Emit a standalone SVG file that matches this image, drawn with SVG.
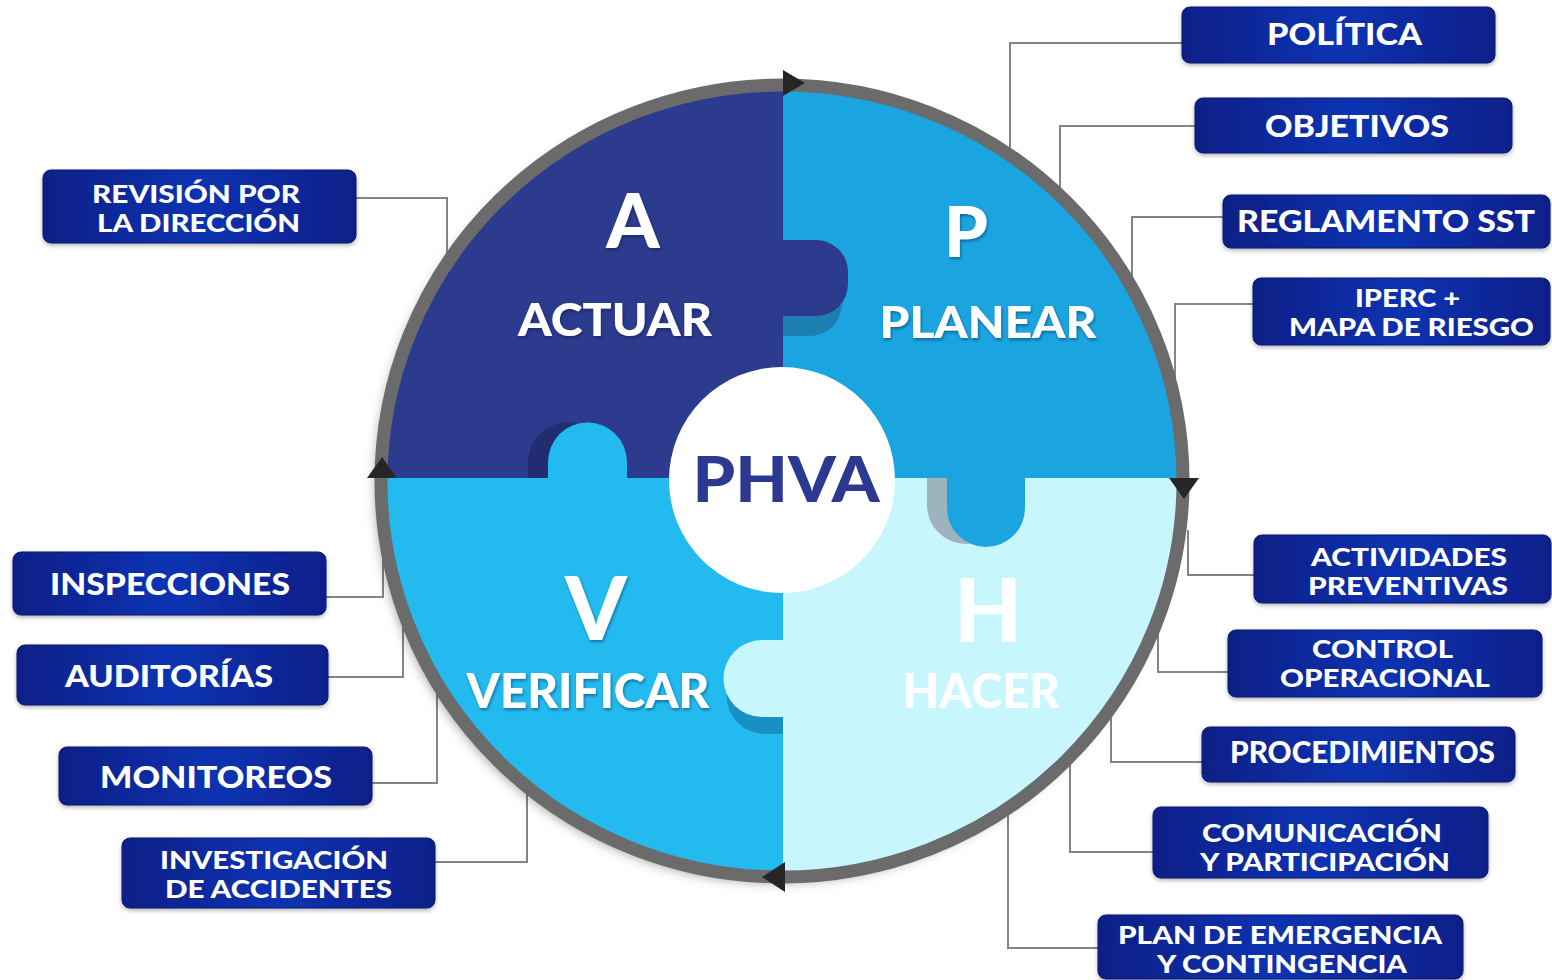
<svg xmlns="http://www.w3.org/2000/svg" width="1552" height="980" viewBox="0 0 1552 980">
  <defs>
    <style>
      .box { fill: url(#boxFill); stroke: #071a6e; stroke-width: 1; filter: url(#boxShadow); }
      .lbl { font-family: Lato, "Open Sans", "Liberation Sans", sans-serif; font-weight: 900; fill: #ffffff; text-anchor: middle; }
      .l1 { font-size: 30px; }
      .l2 { font-size: 24px; }
      .wire { fill: none; stroke: #858585; stroke-width: 2; }
      .big { font-family: Lato, "Open Sans", "Liberation Sans", sans-serif; font-weight: 900; fill: #ffffff; text-anchor: middle; filter: url(#txtShadow); }
      .arrow { fill: #262626; }
    </style>
    <linearGradient id="boxFill" x1="0" y1="0" x2="1" y2="0">
      <stop offset="0" stop-color="#0a1f86"/>
      <stop offset="0.5" stop-color="#0f33b2"/>
      <stop offset="1" stop-color="#0a1f88"/>
    </linearGradient>
    <filter id="boxShadow" x="-10%" y="-20%" width="120%" height="150%">
      <feDropShadow dx="0" dy="2" stdDeviation="2" flood-color="#000" flood-opacity="0.3"/>
    </filter>
    <filter id="ringShadow" x="-10%" y="-10%" width="120%" height="120%">
      <feDropShadow dx="-5" dy="5" stdDeviation="6" flood-color="#000" flood-opacity="0.4"/>
    </filter>
    <filter id="txtShadow" x="-10%" y="-10%" width="120%" height="130%">
      <feDropShadow dx="1" dy="2" stdDeviation="1.5" flood-color="#0a1a40" flood-opacity="0.45"/>
    </filter>
    <clipPath id="disc">
      <ellipse cx="782" cy="481" rx="396" ry="391"/>
    </clipPath>
  </defs>

  <rect width="1552" height="980" fill="#ffffff"/>

  <!-- leader lines from the cycle to each item -->
  <g id="connectors">
    <polyline class="wire" points="1182,43 1010,43 1010,158"/>
    <polyline class="wire" points="1195,126 1060,126 1060,197"/>
    <polyline class="wire" points="1223,217 1132,217 1132,286"/>
    <polyline class="wire" points="1253,304 1175,304 1175,386"/>
    <polyline class="wire" points="1254,575 1188,575 1188,530"/>
    <polyline class="wire" points="1228,672 1158,672 1158,625"/>
    <polyline class="wire" points="1202,762 1111,762 1111,708"/>
    <polyline class="wire" points="1153,852 1070,852 1070,755"/>
    <polyline class="wire" points="1098,948 1008,948 1008,805"/>
    <polyline class="wire" points="356,198 447,198 447,263"/>
    <polyline class="wire" points="326,597 383,597 383,550"/>
    <polyline class="wire" points="328,677 403,677 403,617"/>
    <polyline class="wire" points="372,783 437,783 437,684"/>
    <polyline class="wire" points="435,862 527,862 527,784"/>
  </g>

  <!-- PHVA cycle wheel -->
  <g id="cycle">
    <g filter="url(#ringShadow)">
      <ellipse cx="782" cy="481" rx="401" ry="396" fill="#6b6b6b"/>
    </g>
    <g clip-path="url(#disc)">
      <rect x="370" y="70" width="413" height="408" fill="#2d3b8e"/>
      <rect x="783" y="70" width="420" height="408" fill="#1ba5e0"/>
      <rect x="370" y="478" width="413" height="420" fill="#23bbef"/>
      <rect x="783" y="478" width="420" height="420" fill="#c8f6fd"/>

      <!-- puzzle tab of ACTUAR into PLANEAR -->
      <path d="M783,260 H810 A32,32 0 0 1 842,292 V304 A32,32 0 0 1 810,336 H783 Z" fill="#1b80b0"/>
      <path d="M783,240 H816 A32,32 0 0 1 848,272 V284 A32,32 0 0 1 816,316 H783 Z" fill="#2d3b8e"/>

      <!-- puzzle tab of VERIFICAR into ACTUAR -->
      <path d="M528,478 V462 A39.5,39.5 0 0 1 607,462 V478 Z" fill="#222c70"/>
      <path d="M548,478 V462 A39.5,39.5 0 0 1 627,462 V478 Z" fill="#23bbef"/>

      <!-- puzzle tab of HACER into VERIFICAR -->
      <path d="M783,657 H765 A38.5,38.5 0 0 0 765,734 H783 Z" fill="#1990c4"/>
      <path d="M783,640 H762 A38.5,38.5 0 0 0 762,717 H783 Z" fill="#c8f6fd"/>

      <!-- puzzle tab of PLANEAR into HACER -->
      <path d="M927,478 V505 A39,39 0 0 0 1005,505 V478 Z" fill="#9db3be"/>
      <path d="M947,478 V508 A39,39 0 0 0 1025,508 V478 Z" fill="#1ba5e0"/>
    </g>

    <!-- hub -->
    <circle cx="782" cy="480" r="113" fill="#ffffff"/>
    <text x="786" y="502" font-family="Lato, 'Open Sans', 'Liberation Sans', sans-serif" font-weight="900" font-size="63" fill="#2b3990" text-anchor="middle" textLength="187" lengthAdjust="spacingAndGlyphs">PHVA</text>

    <!-- quadrant captions -->
    <text class="big" x="633" y="248" font-size="76">A</text>
    <text class="big" x="615" y="336" font-size="45" textLength="194" lengthAdjust="spacingAndGlyphs">ACTUAR</text>
    <text class="big" x="966" y="257" font-size="70">P</text>
    <text class="big" x="988" y="338" font-size="44" textLength="217" lengthAdjust="spacingAndGlyphs">PLANEAR</text>
    <text class="big" x="596" y="640" font-size="88">V</text>
    <text class="big" x="588" y="708" font-size="48" textLength="243" lengthAdjust="spacingAndGlyphs">VERIFICAR</text>
    <text class="big" x="988" y="642" font-size="88" style="filter:none" fill-opacity="0.95">H</text>
    <text class="big" x="981" y="708" font-size="48" textLength="157" lengthAdjust="spacingAndGlyphs" style="filter:none">HACER</text>

    <!-- outer ring with direction arrows -->
    <ellipse cx="782" cy="481" rx="401" ry="396" fill="none" stroke="#6b6b6b" stroke-width="13"/>
    <polygon class="arrow" points="783,70 805,83 783,96"/>
    <polygon class="arrow" points="1169,478 1199,478 1184,499"/>
    <polygon class="arrow" points="785,862 785,892 762,877"/>
    <polygon class="arrow" points="367,478 397,478 382,457"/>
  </g>

  <!-- PLANEAR items -->
  <g id="politica">
    <rect class="box" x="1182" y="7" width="313" height="56" rx="8"/>
    <text class="lbl l1" x="1344.5" y="45" textLength="155" lengthAdjust="spacingAndGlyphs">POLÍTICA</text>
  </g>
  <g id="objetivos">
    <rect class="box" x="1195" y="98" width="317" height="55" rx="8"/>
    <text class="lbl l1" x="1357" y="137" textLength="184" lengthAdjust="spacingAndGlyphs">OBJETIVOS</text>
  </g>
  <g id="reglamento">
    <rect class="box" x="1223" y="195" width="327" height="53" rx="8"/>
    <text class="lbl l1" x="1386" y="232" textLength="298" lengthAdjust="spacingAndGlyphs">REGLAMENTO SST</text>
  </g>
  <g id="iperc">
    <rect class="box" x="1253" y="278" width="297" height="67" rx="8"/>
    <text class="lbl l2" x="1407.5" y="307" textLength="105" lengthAdjust="spacingAndGlyphs">IPERC +</text>
    <text class="lbl l2" x="1411.5" y="336" textLength="245" lengthAdjust="spacingAndGlyphs">MAPA DE RIESGO</text>
  </g>

  <!-- HACER items -->
  <g id="actividades">
    <rect class="box" x="1254" y="535" width="297" height="68" rx="8"/>
    <text class="lbl l2" x="1409" y="566" textLength="196" lengthAdjust="spacingAndGlyphs">ACTIVIDADES</text>
    <text class="lbl l2" x="1408" y="595" textLength="200" lengthAdjust="spacingAndGlyphs">PREVENTIVAS</text>
  </g>
  <g id="control">
    <rect class="box" x="1228" y="630" width="314" height="67" rx="8"/>
    <text class="lbl l2" x="1382.5" y="658" textLength="141" lengthAdjust="spacingAndGlyphs">CONTROL</text>
    <text class="lbl l2" x="1385" y="687" textLength="210" lengthAdjust="spacingAndGlyphs">OPERACIONAL</text>
  </g>
  <g id="procedimientos">
    <rect class="box" x="1202" y="727" width="313" height="55" rx="8"/>
    <text class="lbl l1" x="1362.5" y="763" font-size="29" textLength="265" lengthAdjust="spacingAndGlyphs">PROCEDIMIENTOS</text>
  </g>
  <g id="comunicacion">
    <rect class="box" x="1153" y="807" width="335" height="71" rx="8"/>
    <text class="lbl l2" x="1322" y="842" textLength="240" lengthAdjust="spacingAndGlyphs">COMUNICACIÓN</text>
    <text class="lbl l2" x="1325" y="871" textLength="250" lengthAdjust="spacingAndGlyphs">Y PARTICIPACIÓN</text>
  </g>
  <g id="plan-emergencia">
    <rect class="box" x="1098" y="915" width="365" height="64" rx="8"/>
    <text class="lbl l2" x="1280" y="944" textLength="324" lengthAdjust="spacingAndGlyphs">PLAN DE EMERGENCIA</text>
    <text class="lbl l2" x="1282" y="973" textLength="250" lengthAdjust="spacingAndGlyphs">Y CONTINGENCIA</text>
  </g>

  <!-- ACTUAR item -->
  <g id="revision">
    <rect class="box" x="43" y="170" width="313" height="73" rx="8"/>
    <text class="lbl l2" x="196" y="203" textLength="208" lengthAdjust="spacingAndGlyphs">REVISIÓN POR</text>
    <text class="lbl l2" x="198.5" y="232" textLength="203" lengthAdjust="spacingAndGlyphs">LA DIRECCIÓN</text>
  </g>

  <!-- VERIFICAR items -->
  <g id="inspecciones">
    <rect class="box" x="13" y="552" width="313" height="63" rx="8"/>
    <text class="lbl l1" x="170" y="595" textLength="240" lengthAdjust="spacingAndGlyphs">INSPECCIONES</text>
  </g>
  <g id="auditorias">
    <rect class="box" x="17" y="645" width="311" height="60" rx="8"/>
    <text class="lbl l1" x="169" y="687" textLength="208" lengthAdjust="spacingAndGlyphs">AUDITORÍAS</text>
  </g>
  <g id="monitoreos">
    <rect class="box" x="59" y="747" width="313" height="58" rx="8"/>
    <text class="lbl l1" x="216" y="788" textLength="232" lengthAdjust="spacingAndGlyphs">MONITOREOS</text>
  </g>
  <g id="investigacion">
    <rect class="box" x="122" y="838" width="313" height="70" rx="8"/>
    <text class="lbl l2" x="274" y="869" textLength="228" lengthAdjust="spacingAndGlyphs">INVESTIGACIÓN</text>
    <text class="lbl l2" x="278.5" y="898" textLength="227" lengthAdjust="spacingAndGlyphs">DE ACCIDENTES</text>
  </g>
</svg>
